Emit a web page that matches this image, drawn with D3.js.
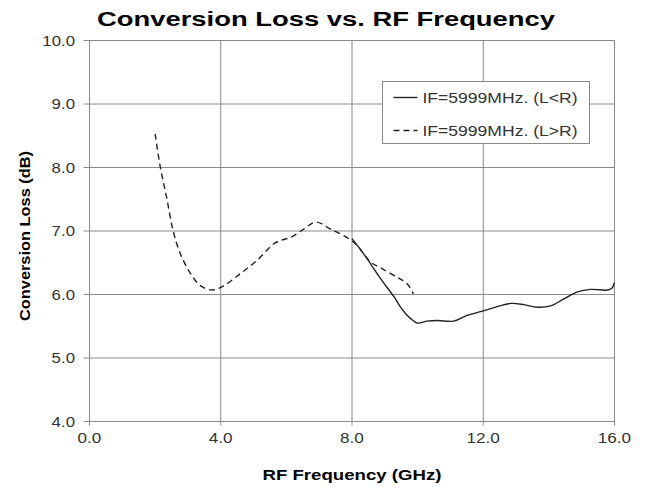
<!DOCTYPE html>
<html>
<head>
<meta charset="utf-8">
<script src="https://cdnjs.cloudflare.com/ajax/libs/d3/7.8.5/d3.min.js"></script>
<style>
  body { margin: 0; background: #fff; }
  text { font-family: "Liberation Sans", Arial, sans-serif; }
</style>
</head>
<body>
<div id="chart"></div>
<script>
// series
var freqLR = [8.0, 8.3, 8.57, 8.8, 9.07, 9.3, 9.48, 9.65, 9.79, 9.99, 10.29, 10.6, 11.1, 11.51, 11.92, 12.43, 12.84, 13.24, 13.65, 14.05, 14.46, 14.87, 15.27, 15.78, 15.92, 16.0];
var lossLR = [6.88, 6.68, 6.48, 6.3, 6.11, 5.95, 5.8, 5.69, 5.62, 5.55, 5.58, 5.59, 5.58, 5.67, 5.73, 5.81, 5.86, 5.84, 5.8, 5.82, 5.93, 6.04, 6.08, 6.07, 6.1, 6.19];

var freqGR = [2.0, 2.16, 2.35, 2.55, 2.77, 3.08, 3.38, 3.74, 4.1, 4.6, 5.11, 5.62, 5.82, 6.13, 6.53, 6.89, 7.35, 8.06, 8.57, 8.87, 9.38, 9.68, 9.87];
var lossGR = [8.53, 8.0, 7.53, 7.0, 6.64, 6.33, 6.14, 6.07, 6.14, 6.33, 6.54, 6.8, 6.85, 6.9, 7.03, 7.14, 7.03, 6.82, 6.51, 6.42, 6.27, 6.17, 6.01];

var xTicks = [0, 4, 8, 12, 16];
var yTicks = [4, 5, 6, 7, 8, 9, 10];
var legendLabels = ["IF=5999MHz. (L<R)", "IF=5999MHz. (L>R)"];

var width = 649, height = 487;
var svg = d3.select('#chart').append('svg')
  .attr('width', width)
  .attr('height', height);

var x = d3.scaleLinear().domain([0, 16]).range([89.5, 614.5]);
var y = d3.scaleLinear().domain([4, 10]).range([421.5, 40.5]);

// the original text is drawn wide, so stretch it sideways
function stretch(sel, k) {
  sel.each(function() {
    var w = this.getComputedTextLength();
    d3.select(this)
      .attr('textLength', w * k)
      .attr('lengthAdjust', 'spacingAndGlyphs');
  });
}

// grid
svg.append('g').selectAll('line.v')
  .data(xTicks)
  .enter().append('line')
  .attr('x1', d => x(d)).attr('x2', d => x(d))
  .attr('y1', y(10)).attr('y2', y(4) + 4)
  .attr('stroke', '#8a8a8a').attr('stroke-width', 1);

svg.append('g').selectAll('line.h')
  .data(yTicks)
  .enter().append('line')
  .attr('x1', x(0) - 6).attr('x2', x(16))
  .attr('y1', d => y(d)).attr('y2', d => y(d))
  .attr('stroke', '#8a8a8a').attr('stroke-width', 1);

// tick labels
svg.append('g').selectAll('text')
  .data(yTicks)
  .enter().append('text')
  .attr('x', 75)
  .attr('y', d => y(d) + 5)
  .attr('text-anchor', 'end')
  .attr('font-size', 14)
  .attr('fill', '#333')
  .text(d => d.toFixed(1))
  .call(stretch, 1.2);

svg.append('g').selectAll('text')
  .data(xTicks)
  .enter().append('text')
  .attr('x', d => x(d))
  .attr('y', 443)
  .attr('text-anchor', 'middle')
  .attr('font-size', 14)
  .attr('fill', '#333')
  .text(d => d.toFixed(1))
  .call(stretch, 1.22);

// lines
var line = d3.line()
  .x(d => x(d[0]))
  .y(d => y(d[1]))
  .curve(d3.curveCatmullRom.alpha(0.5));

svg.append('path')
  .datum(d3.zip(freqGR, lossGR))
  .attr('d', line)
  .attr('fill', 'none')
  .attr('stroke', '#222')
  .attr('stroke-width', 1.4)
  .attr('stroke-dasharray', '6,4');

svg.append('path')
  .datum(d3.zip(freqLR, lossLR))
  .attr('d', line)
  .attr('fill', 'none')
  .attr('stroke', '#222')
  .attr('stroke-width', 1.4);

// legend
var lg = svg.append('g').attr('transform', 'translate(382.5, 81.5)');
lg.append('rect')
  .attr('width', 207).attr('height', 62)
  .attr('fill', '#fff').attr('stroke', '#8a8a8a');

var rows = lg.selectAll('g.row')
  .data(legendLabels)
  .enter().append('g')
  .attr('transform', (d, i) => 'translate(0,' + (16 + i * 33) + ')');

rows.append('line')
  .attr('x1', 11).attr('x2', 35)
  .attr('stroke', '#222').attr('stroke-width', 1.4)
  .attr('stroke-dasharray', (d, i) => i ? '6,4' : null);

rows.append('text')
  .attr('x', 40).attr('y', 5)
  .attr('font-size', 14)
  .attr('fill', '#333')
  .text(d => d)
  .attr('textLength', 155)
  .attr('lengthAdjust', 'spacingAndGlyphs');

// titles
svg.append('text')
  .attr('x', 326).attr('y', 26)
  .attr('text-anchor', 'middle')
  .attr('font-size', 20)
  .attr('font-weight', 'bold')
  .attr('textLength', 458)
  .attr('lengthAdjust', 'spacingAndGlyphs')
  .text('Conversion Loss vs. RF Frequency');

svg.append('text')
  .attr('x', 352).attr('y', 480)
  .attr('text-anchor', 'middle')
  .attr('font-size', 15)
  .attr('font-weight', 'bold')
  .attr('textLength', 179)
  .attr('lengthAdjust', 'spacingAndGlyphs')
  .text('RF Frequency (GHz)');

svg.append('text')
  .attr('transform', 'translate(30, 236) rotate(-90)')
  .attr('text-anchor', 'middle')
  .attr('font-size', 14)
  .attr('font-weight', 'bold')
  .attr('textLength', 170)
  .attr('lengthAdjust', 'spacingAndGlyphs')
  .text('Conversion Loss (dB)');
</script>
</body>
</html>
